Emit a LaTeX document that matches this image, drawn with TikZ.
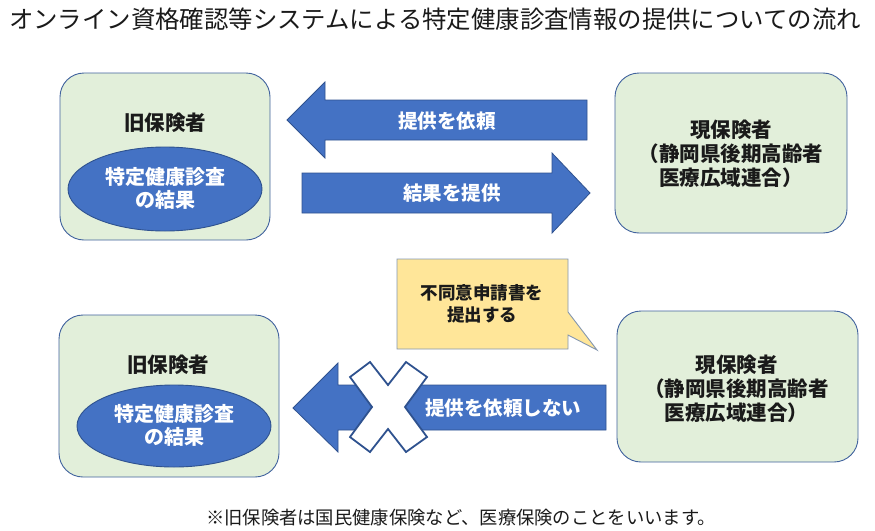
\documentclass[tikz,border=0pt]{standalone}
\usepackage{fontspec}
\setmainfont{Noto Sans CJK JP}
\usetikzlibrary{shapes.geometric}
\definecolor{boxfill}{HTML}{E2EFDA}
\definecolor{boxline}{HTML}{41639E}
\definecolor{arrowfill}{HTML}{4472C4}
\definecolor{arrowline}{HTML}{2F528F}
\definecolor{calloutfill}{HTML}{FFE699}
\definecolor{calloutline}{HTML}{8497B0}
\definecolor{txt}{HTML}{1A1A1A}
\tikzset{
  orgbox/.style={draw=boxline, fill=boxfill, line width=0.9pt, rounded corners=24pt, inner sep=0pt},
  resultell/.style={ellipse, draw=arrowline, fill=arrowfill, line width=0.9pt, inner sep=0pt},
  bigarrow/.style={draw=arrowline, fill=arrowfill, line width=0.8pt},
  crossmark/.style={draw=arrowline, fill=white, line width=1.8pt, line join=miter},
  bubble/.style={draw=calloutline, fill=calloutfill, line width=0.9pt},
  orgtext/.style={font=\fontsize{20.5}{24}\selectfont\bfseries, text=txt, align=center, inner sep=0pt},
  whitetext/.style={font=\fontsize{20}{23}\selectfont\bfseries, text=white, align=center, inner sep=0pt},
  arrowtext/.style={font=\fontsize{19.5}{22}\selectfont\bfseries, text=white, inner sep=0pt},
  bubbletext/.style={font=\fontsize{17.5}{22}\selectfont\bfseries, text=txt, align=center, inner sep=0pt}
}
\begin{document}
\begin{tikzpicture}[x=1pt,y=-1pt]
\useasboundingbox (0,0) rectangle (875,530);
\fill[white] (0,0) rectangle (875,530);

% title
\node[font=\fontsize{24.4}{27}\selectfont, text=txt, inner sep=0pt] (title) at (435,19)
  {オンライン資格確認等システムによる特定健康診査情報の提供についての流れ};

% ---------- top row ----------
\node[orgbox, minimum width=210, minimum height=167] (oldA) at (165,156.5) {};
\node[orgtext] (oldAlabel) at (165,123) {旧保険者};
\node[resultell, minimum width=194, minimum height=84] (resA) at (165,189) {};
\node[whitetext] (resAtext) at (165,188.5) {特定健康診査\\の結果};

\node[orgbox, minimum width=232, minimum height=160] (newA) at (731,153) {};
\node[orgtext] (newAtext) at (731,154) {現保険者\\（静岡県後期高齢者\\医療広域連合）};

\draw[bigarrow] (587,100) -- (325,100) -- (325,82) -- (287,120) -- (325,158) -- (325,140) -- (587,140) -- cycle;
\node[arrowtext] (req) at (447,121) {提供を依頼};

\draw[bigarrow] (302,173) -- (552,173) -- (552,153) -- (590,193) -- (552,233) -- (552,213) -- (302,213) -- cycle;
\node[arrowtext] (give) at (452,193) {結果を提供};

% ---------- callout ----------
\draw[bubble] (397,259) -- (568,259) -- (568,312) -- (597,350) -- (568,335) -- (568,349) -- (397,349) -- cycle;
\node[bubbletext] (optout) at (482,304) {不同意申請書を\\提出する};

% ---------- bottom row ----------
\node[orgbox, minimum width=220, minimum height=162] (oldB) at (169,396) {};
\node[orgtext] (oldBlabel) at (168,365) {旧保険者};
\node[resultell, minimum width=194, minimum height=82] (resB) at (174,426) {};
\node[whitetext] (resBtext) at (174,425) {特定健康診査\\の結果};

\node[orgbox, minimum width=241, minimum height=151] (newB) at (737.5,386.5) {};
\node[orgtext] (newBtext) at (736.5,388.5) {現保険者\\（静岡県後期高齢者\\医療広域連合）};

\draw[bigarrow] (606,385) -- (338,385) -- (338,363) -- (293,408) -- (338,452) -- (338,430) -- (606,430) -- cycle;
\draw[crossmark] (350,377) -- (370,362) -- (388,385) -- (406,362) -- (427,377) -- (405,407)
  -- (427,437) -- (406,452) -- (388,429) -- (370,452) -- (350,437) -- (372,407) -- cycle;
\node[arrowtext] (noreq) at (503,408) {提供を依頼しない};

% footnote
\node[font=\fontsize{18.3}{21}\selectfont, text=txt, inner sep=0pt] (note) at (461,518)
  {※旧保険者は国民健康保険など、医療保険のことをいいます。};
\end{tikzpicture}
\end{document}
